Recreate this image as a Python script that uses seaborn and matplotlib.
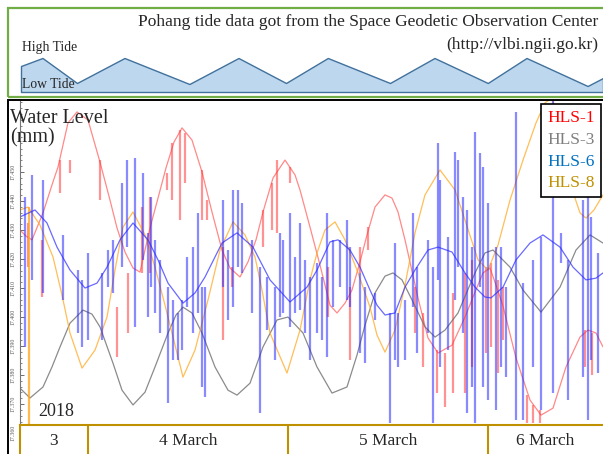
import matplotlib
matplotlib.use('Agg')
import matplotlib.pyplot as plt
from matplotlib.patches import Rectangle
from matplotlib.lines import Line2D
from matplotlib.ticker import AutoMinorLocator, FormatStrFormatter
import numpy as np
import seaborn as sns

# ============================================================================
# Data (x = days since 3 March 2018 00:00, y = water level as on the axis)
# ============================================================================

hls1_day = [0.660, 0.690, 0.720, 0.775, 0.825, 0.850, 0.900, 0.945, 1.000, 1.060,
            1.110, 1.145, 1.185, 1.225, 1.260, 1.285, 1.310, 1.350, 1.390, 1.430,
            1.470, 1.520, 1.570, 1.620, 1.670, 1.710, 1.760, 1.800, 1.840, 1.875,
            1.925, 1.985, 2.035, 2.060, 2.110, 2.160, 2.210, 2.245, 2.285, 2.320,
            2.360, 2.395, 2.435, 2.485, 2.520, 2.550, 2.585, 2.650, 2.700, 2.750,
            2.820, 2.885, 2.935, 2.975, 3.010, 3.040, 3.075, 3.140, 3.210, 3.265,
            3.325, 3.390, 3.460, 3.500, 3.540, 3.575]
hls1_level = [17.4300, 17.4279, 17.4266, 17.4359, 17.4466, 17.4517, 17.4669, 17.4707, 17.4679, 17.4534,
              17.4403, 17.4307, 17.4224, 17.4169, 17.4155, 17.4231, 17.4307, 17.4410, 17.4514, 17.4603,
              17.4652, 17.4610, 17.4500, 17.4362, 17.4231, 17.4169, 17.4138, 17.4190, 17.4266, 17.4362,
              17.4479, 17.4541, 17.4490, 17.4438, 17.4310, 17.4179, 17.4041, 17.4014, 17.4048, 17.4093,
              17.4190, 17.4283, 17.4379, 17.4421, 17.4410, 17.4362, 17.4266, 17.4066, 17.3928, 17.3876,
              17.3903, 17.4000, 17.4086, 17.4152, 17.4169, 17.4110, 17.4038, 17.3859, 17.3714, 17.3662,
              17.3686, 17.3828, 17.3931, 17.3955, 17.3945, 17.3897]

hls3_day = [0.660, 0.710, 0.775, 0.820, 0.860, 0.910, 0.975, 1.020, 1.060, 1.125,
            1.170, 1.225, 1.285, 1.335, 1.400, 1.440, 1.475, 1.520, 1.570, 1.635,
            1.700, 1.745, 1.810, 1.875, 1.945, 2.000, 2.075, 2.145, 2.220, 2.295,
            2.345, 2.385, 2.435, 2.485, 2.525, 2.570, 2.620, 2.685, 2.735, 2.785,
            2.850, 2.935, 2.985, 3.025, 3.110, 3.175, 3.265, 3.360, 3.440, 3.510,
            3.575]
hls3_level = [17.3755, 17.3721, 17.3759, 17.3828, 17.3897, 17.3979, 17.4024, 17.4010, 17.3966, 17.3841,
              17.3748, 17.3697, 17.3741, 17.3828, 17.3945, 17.4007, 17.4034, 17.4014, 17.3945, 17.3828,
              17.3748, 17.3731, 17.3772, 17.3897, 17.3990, 17.4000, 17.3945, 17.3828, 17.3738, 17.3759,
              17.3869, 17.3972, 17.4083, 17.4141, 17.4152, 17.4128, 17.4059, 17.3966, 17.3931, 17.3955,
              17.4014, 17.4152, 17.4221, 17.4231, 17.4172, 17.4093, 17.4017, 17.4103, 17.4231, 17.4283,
              17.4255]

hls6_day = [0.660, 0.735, 0.795, 0.845, 0.910, 0.985, 1.045, 1.095, 1.160, 1.225,
            1.300, 1.350, 1.400, 1.475, 1.535, 1.585, 1.635, 1.670, 1.745, 1.825,
            1.910, 2.010, 2.095, 2.145, 2.210, 2.250, 2.310, 2.360, 2.410, 2.445,
            2.485, 2.535, 2.585, 2.635, 2.700, 2.750, 2.820, 2.885, 2.935, 2.985,
            3.015, 3.075, 3.140, 3.210, 3.275, 3.360, 3.425, 3.490, 3.540, 3.575]
hls6_level = [17.4345, 17.4369, 17.4324, 17.4241, 17.4162, 17.4100, 17.4117, 17.4172, 17.4266, 17.4324,
              17.4266, 17.4197, 17.4117, 17.4048, 17.4083, 17.4138, 17.4207, 17.4255, 17.4290, 17.4241,
              17.4128, 17.4052, 17.4103, 17.4162, 17.4259, 17.4266, 17.4231, 17.4172, 17.4093, 17.4041,
              17.4007, 17.4014, 17.4103, 17.4162, 17.4231, 17.4241, 17.4224, 17.4152, 17.4103, 17.4069,
              17.4066, 17.4103, 17.4197, 17.4255, 17.4283, 17.4241, 17.4172, 17.4128, 17.4134, 17.4152]

hls8_day = [0.660, 0.700, 0.760, 0.825, 0.870, 0.910, 0.970, 1.035, 1.095, 1.135,
            1.175, 1.225, 1.285, 1.335, 1.385, 1.420, 1.475, 1.535, 1.600, 1.660,
            1.725, 1.785, 1.835, 1.870, 1.910, 1.995, 2.060, 2.110, 2.145, 2.185,
            2.235, 2.285, 2.345, 2.410, 2.445, 2.485, 2.535, 2.585, 2.635, 2.685,
            2.760, 2.835, 2.885, 2.950, 3.000, 3.050, 3.110, 3.175, 3.240, 3.285,
            3.320, 3.360, 3.400, 3.435, 3.460, 3.490, 3.530, 3.575]
hls8_level = [17.4369, 17.4379, 17.4317, 17.4207, 17.4076, 17.3945, 17.3824, 17.3886, 17.4000, 17.4162,
              17.4310, 17.4362, 17.4283, 17.4172, 17.4041, 17.3945, 17.3793, 17.3886, 17.4059, 17.4231,
              17.4328, 17.4283, 17.4207, 17.4093, 17.3945, 17.3807, 17.3955, 17.4128, 17.4221, 17.4300,
              17.4328, 17.4266, 17.4162, 17.4034, 17.3938, 17.3879, 17.3955, 17.4110, 17.4290, 17.4421,
              17.4507, 17.4438, 17.4334, 17.4197, 17.4162, 17.4248, 17.4403, 17.4541, 17.4669, 17.4738,
              17.4755, 17.4662, 17.4524, 17.4410, 17.4359, 17.4341, 17.4369, 17.4421]

# outlier spikes (HLS-6)
hls6_spike_day = [0.685, 0.720, 0.775, 0.875, 0.950, 0.970, 1.000, 1.070, 1.100, 1.125,
                  1.170, 1.195, 1.235, 1.275, 1.300, 1.315, 1.335, 1.360, 1.400, 1.425,
                  1.450, 1.470, 1.495, 1.525, 1.550, 1.570, 1.585, 1.675, 1.700, 1.725,
                  1.750, 1.770, 1.820, 1.860, 1.895, 1.935, 1.960, 1.975, 2.010, 2.035,
                  2.060, 2.085, 2.110, 2.145, 2.170, 2.195, 2.225, 2.260, 2.295, 2.310,
                  2.360, 2.385, 2.435, 2.510, 2.535, 2.550, 2.585, 2.625, 2.645, 2.700,
                  2.725, 2.750, 2.760, 2.800, 2.835, 2.850, 2.875, 2.895, 2.920, 2.935,
                  2.960, 2.975, 3.000, 3.040, 3.065, 3.090, 3.140, 3.175, 3.225, 3.265,
                  3.325, 3.365, 3.400, 3.475, 3.500, 3.515, 3.550]
hls6_spike_hi = [17.4414, 17.4490, 17.4472, 17.4283, 17.4162, 17.4128, 17.4221, 17.4152, 17.4231, 17.4266,
                 17.4462, 17.4541, 17.4548, 17.4497, 17.4290, 17.4414, 17.4266, 17.4197, 17.4103, 17.4059,
                 17.4014, 17.4059, 17.4207, 17.4241, 17.4359, 17.4103, 17.4103, 17.4403, 17.4231, 17.4438,
                 17.4438, 17.4393, 17.4266, 17.4172, 17.4138, 17.4103, 17.4290, 17.4266, 17.4359, 17.4207,
                 17.4324, 17.4197, 17.4138, 17.4186, 17.4138, 17.4359, 17.4266, 17.4266, 17.4334, 17.4241,
                 17.4152, 17.4103, 17.4083, 17.4014, 17.4255, 17.4014, 17.4059, 17.4359, 17.4172, 17.4266,
                 17.4172, 17.4600, 17.4472, 17.4276, 17.4569, 17.4541, 17.4414, 17.4369, 17.4241, 17.4638,
                 17.4566, 17.4517, 17.4393, 17.4241, 17.4241, 17.4103, 17.4707, 17.4117, 17.4197, 17.4276,
                 17.4748, 17.4290, 17.4197, 17.4403, 17.4414, 17.4345, 17.4221]
hls6_spike_lo = [17.3897, 17.4128, 17.4083, 17.4059, 17.3945, 17.3897, 17.3921, 17.3921, 17.4103, 17.4083,
                 17.4172, 17.4241, 17.3966, 17.4197, 17.4000, 17.4103, 17.4014, 17.3945, 17.3703, 17.3852,
                 17.3852, 17.3886, 17.4034, 17.3945, 17.4014, 17.3759, 17.3724, 17.4103, 17.3990, 17.4034,
                 17.4172, 17.4152, 17.4014, 17.3669, 17.3955, 17.3852, 17.4000, 17.4014, 17.3966, 17.4014,
                 17.4024, 17.3945, 17.3852, 17.3945, 17.3921, 17.3862, 17.4034, 17.4103, 17.4059, 17.4034,
                 17.3876, 17.3841, 17.3990, 17.3634, 17.3852, 17.3828, 17.3852, 17.4034, 17.3876, 17.3945,
                 17.3634, 17.4128, 17.3828, 17.3886, 17.4059, 17.4172, 17.3945, 17.3669, 17.3759, 17.3634,
                 17.4103, 17.3759, 17.3714, 17.3679, 17.3828, 17.3793, 17.3645, 17.3645, 17.3828, 17.3679,
                 17.3738, 17.4186, 17.3714, 17.3793, 17.3645, 17.3852, 17.3807]

# outlier spikes (HLS-1)
hls1_spike_day = [0.700, 0.770, 0.860, 0.910, 1.060, 1.145, 1.200, 1.270, 1.310, 1.395,
                  1.420, 1.460, 1.485, 1.570, 1.595, 1.675, 1.720, 1.875, 1.920, 1.945,
                  2.010, 2.200, 2.310, 2.360, 2.400, 2.635, 2.675, 2.745, 2.785, 2.825,
                  2.885, 2.920, 2.990, 3.015, 3.050, 3.075, 3.195, 3.225, 3.260, 3.485,
                  3.520]
hls1_spike_hi = [17.4324, 17.4266, 17.4541, 17.4541, 17.4541, 17.4034, 17.4152, 17.4379, 17.4414, 17.4497,
                 17.4600, 17.4645, 17.4634, 17.4507, 17.4403, 17.4241, 17.4172, 17.4369, 17.4462, 17.4541,
                 17.4517, 17.4172, 17.4103, 17.4241, 17.4310, 17.4103, 17.4014, 17.3886, 17.3876, 17.4083,
                 17.4152, 17.4197, 17.4172, 17.4186, 17.4128, 17.4103, 17.3731, 17.3697, 17.3679, 17.3955,
                 17.3945]
hls1_spike_lo = [17.4172, 17.4069, 17.4428, 17.4497, 17.4403, 17.3862, 17.3945, 17.4152, 17.4152, 17.4438,
                 17.4403, 17.4334, 17.4462, 17.4334, 17.4334, 17.3921, 17.4103, 17.4241, 17.4300, 17.4290,
                 17.4462, 17.4000, 17.3852, 17.4152, 17.4231, 17.3945, 17.3828, 17.3738, 17.3690, 17.3738,
                 17.3738, 17.3828, 17.3876, 17.3897, 17.3807, 17.3921, 17.3634, 17.3634, 17.3634, 17.3828,
                 17.3800]

# outlier spike (HLS-8)
hls8_spike_day = [0.705]
hls8_spike_hi = [17.4379]
hls8_spike_lo = [17.3500]

# Pohang tide sketch (high / low turning points)
tide_day = [0.665, 0.7725, 0.945, 1.1825, 1.507, 1.7525, 1.990, 2.199, 2.510, 2.7325,
            2.999, 3.1925, 3.498, 3.575]
tide_level = [2.6, 3.4, 0.9, 3.4, 0.8, 3.4, 0.9, 3.4, 0.9, 3.4,
              0.9, 3.4, 0.6, 1.4]

day_edges = [1, 2, 3]
day_labels = ['3', '4 March', '5 March', '6 March']
y_ticks = [17.36, 17.37, 17.38, 17.39, 17.40, 17.41, 17.42, 17.43, 17.44, 17.45]

series_names = ['HLS-1', 'HLS-3', 'HLS-6', 'HLS-8']
legend_colors = ['#ff0000', '#7f7f7f', '#0070c0', '#bf9000']

# ============================================================================
# Figure
# ============================================================================

sns.set_style('white')
plt.rcParams['font.family'] = ['Liberation Serif', 'DejaVu Serif']

W, H = 603, 454
fig = plt.figure(figsize=(W / 100, H / 100), dpi=100)


def fx(px):
    return px / W


def fy(py):
    return 1 - py / H


X_LIM = (0.66, 3.575)

# --- main plot
ax = fig.add_axes([fx(20), 0, 1 - fx(20), (H - 100) / H])
ax.set_xlim(*X_LIM)
ax.set_ylim(17.3528, 17.4748)

sns.lineplot(x=hls1_day, y=hls1_level, ax=ax, color='#ff3b3b', lw=0.9, alpha=0.6,
             sort=False, estimator=None)
ax.vlines(hls1_spike_day, hls1_spike_lo, hls1_spike_hi, colors='#ff3b3b', lw=1.6, alpha=0.55)
sns.lineplot(x=hls3_day, y=hls3_level, ax=ax, color='#6e6e6e', lw=0.9, alpha=0.8,
             sort=False, estimator=None)
sns.lineplot(x=hls8_day, y=hls8_level, ax=ax, color='#ffa820', lw=0.9, alpha=0.75,
             sort=False, estimator=None)
ax.vlines(hls8_spike_day, hls8_spike_lo, hls8_spike_hi, colors='#ffa820', lw=1.6, alpha=0.8)
sns.lineplot(x=hls6_day, y=hls6_level, ax=ax, color='#2a2aff', lw=0.9, alpha=0.7,
             sort=False, estimator=None)
ax.vlines(hls6_spike_day, hls6_spike_lo, hls6_spike_hi, colors='#2a2aff', lw=1.6, alpha=0.55)

ax.set_xticks([])
ax.set_yticks(y_ticks)
ax.yaxis.set_major_formatter(FormatStrFormatter('%.3f'))
ax.yaxis.set_minor_locator(AutoMinorLocator(5))
ax.tick_params(axis='y', which='major', direction='in', length=3, width=0.6,
               labelsize=4.2, labelrotation=90, pad=3, left=True, colors='#555555')
ax.tick_params(axis='y', which='minor', direction='in', length=1.2, width=0.5,
               left=True, color='#555555')
for lab in ax.get_yticklabels():
    lab.set_va('center')
ax.set_xlabel('')
ax.set_ylabel('')
for side in ['top', 'right', 'bottom']:
    ax.spines[side].set_visible(False)
ax.spines['left'].set_color('#777777')
ax.spines['left'].set_linewidth(0.8)

handles = [Line2D([], [], lw=0) for _ in series_names]
leg = ax.legend(handles, series_names, loc='upper right',
                bbox_to_anchor=(fx(601), fy(104)), bbox_transform=fig.transFigure,
                fontsize=12.5, handlelength=0, handletextpad=0, borderpad=0.35,
                borderaxespad=0, labelspacing=0.32, frameon=True, fancybox=False,
                framealpha=1, edgecolor='black', labelcolor=legend_colors)
leg.get_frame().set_linewidth(1.2)

# --- date strip
axd = fig.add_axes([fx(20), 0, 1 - fx(20), 29 / H])
axd.set_xlim(*X_LIM)
axd.set_ylim(0, 1)
axd.set_facecolor('white')
gold = '#bf9000'
axd.vlines(day_edges, 0, 1, colors=gold, lw=1.5)
for side in ['right', 'bottom']:
    axd.spines[side].set_visible(False)
for side in ['top', 'left']:
    axd.spines[side].set_color(gold)
    axd.spines[side].set_linewidth(1.5)
axd.set_xticks([])
axd.set_yticks([])
edges = [X_LIM[0]] + day_edges + [X_LIM[1]]
for lab, a, b in zip(day_labels, edges[:-1], edges[1:]):
    axd.text((a + b) / 2, 0.45, lab, ha='center', va='center', fontsize=12.5)

# --- tide sketch
axt = fig.add_axes([fx(8), fy(97), 1 - fx(8), (97 - 8) / H])
axt.set_xlim(0.6, X_LIM[1])
axt.set_ylim(-0.5, 8.4)
axt.fill_between(tide_day, 0, tide_level, facecolor='#bdd7ee', edgecolor='#41719c', lw=1.0)
axt.axis('off')

fig.add_artist(Rectangle((fx(8), fy(97)), 1.0, (97 - 8) / H, transform=fig.transFigure,
                         fill=False, edgecolor='#70ad47', lw=1.6))
fig.add_artist(Rectangle((fx(8), -0.01), 1.0, fy(100) + 0.01, transform=fig.transFigure,
                         fill=False, edgecolor='black', lw=1.4))

fig.text(fx(598), fy(22), 'Pohang tide data got from the Space Geodetic Observation Center',
         ha='right', va='center', fontsize=12.5)
fig.text(fx(598), fy(45), '(http://vlbi.ngii.go.kr)', ha='right', va='center', fontsize=12.5)
fig.text(fx(22), fy(47), 'High Tide', ha='left', va='center', fontsize=9.8)
fig.text(fx(22), fy(85), 'Low Tide', ha='left', va='center', fontsize=9.8)
fig.text(fx(10), fy(109), 'Water Level\n(mm)', ha='left', va='top', fontsize=14.5, linespacing=1.05)
fig.text(fx(38), fy(411), '2018', ha='left', va='center', fontsize=13)

fig.savefig('out.png', dpi=100)
